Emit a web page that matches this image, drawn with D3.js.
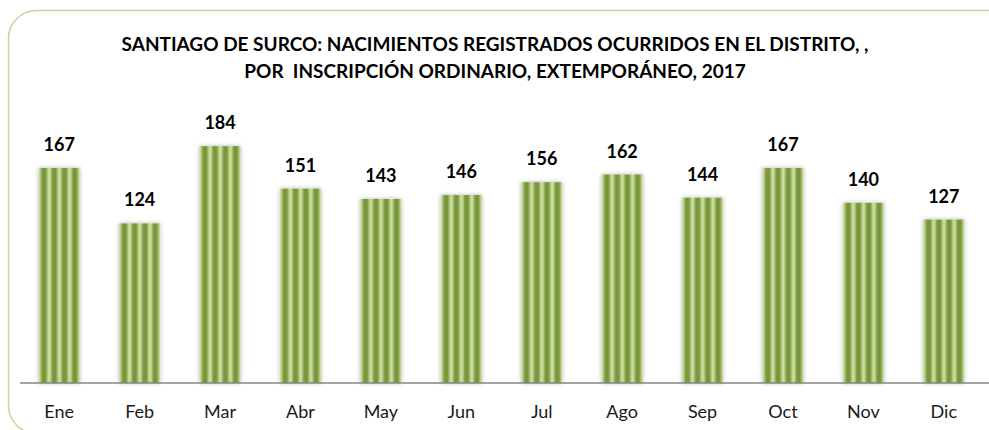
<!DOCTYPE html>
<html>
<head>
<meta charset="utf-8">
<script src="https://d3js.org/d3.v7.min.js"></script>
<style>
  body { margin: 0; background: #fff; }
  svg text { font-family: Lato, "Open Sans", sans-serif; }
</style>
</head>
<body>
<div id="my_dataviz"></div>
<script>
// data
const months = ["Ene","Feb","Mar","Abr","May","Jun","Jul","Ago","Sep","Oct","Nov","Dic"];
const births = [167, 124, 184, 151, 143, 146, 156, 162, 144, 167, 140, 127];
const titleLines = [
  "SANTIAGO DE SURCO: NACIMIENTOS REGISTRADOS OCURRIDOS EN EL DISTRITO, ,",
  "POR  INSCRIPCIÓN ORDINARIO, EXTEMPORÁNEO, 2017"
];

const W = 989, H = 430;

const svg = d3.select("#my_dataviz")
  .append("svg")
    .attr("width", W)
    .attr("height", H);

const defs = svg.append("defs");

const x = d3.scaleBand()
  .domain(months)
  .range([19, 984])
  .paddingInner(0.49)
  .paddingOuter(0.245);

const y = d3.scaleLinear()
  .domain([0, 200])
  .range([383, 125.6]);

const tile = x.bandwidth() / 4;

// soft light->dark->light band used inside each stripe tile
const grad = defs.append("linearGradient")
  .attr("id", "stripeGrad")
  .attr("x1", 0).attr("x2", 1)
  .attr("y1", 0).attr("y2", 0);
[[0, "#d3e3ae"], [0.18, "#b3cb7c"], [0.35, "#7a9740"], [0.65, "#77933c"], [0.82, "#a5bf68"], [1, "#d3e3ae"]]
  .forEach(s => grad.append("stop").attr("offset", s[0]).attr("stop-color", s[1]));

// one stripe pattern per bar so the stripes line up with its left edge
defs.selectAll("pattern")
  .data(months)
  .join("pattern")
    .attr("id", (d, i) => "stripes" + i)
    .attr("patternUnits", "userSpaceOnUse")
    .attr("x", d => x(d))
    .attr("y", 0)
    .attr("width", tile)
    .attr("height", H)
  .append("rect")
    .attr("width", tile)
    .attr("height", H)
    .attr("fill", "url(#stripeGrad)");

const shadow = defs.append("filter")
  .attr("id", "shadow")
  .attr("x", "-30%").attr("y", "-10%")
  .attr("width", "160%").attr("height", "120%");
shadow.append("feDropShadow")
  .attr("dx", 0).attr("dy", 0)
  .attr("stdDeviation", 2)
  .attr("flood-color", "#000")
  .attr("flood-opacity", 0.3);

// rounded chart frame
svg.append("rect")
  .attr("x", 8.5).attr("y", 10.5)
  .attr("width", 1010).attr("height", 423)
  .attr("rx", 28).attr("ry", 28)
  .attr("fill", "none")
  .attr("stroke", "#c3d69b")
  .attr("stroke-width", 1.5);

// title
svg.selectAll("text.title")
  .data(titleLines)
  .join("text")
    .attr("class", "title")
    .attr("x", 495)
    .attr("y", (d, i) => 51 + i * 27)
    .attr("text-anchor", "middle")
    .attr("font-weight", "bold")
    .attr("font-size", 19)
    .style("white-space", "pre")
    .attr("fill", "#000")
    .text(d => d);

// bars
svg.append("g")
  .selectAll("rect")
  .data(births)
  .join("rect")
    .attr("x", (d, i) => x(months[i]))
    .attr("y", d => y(d))
    .attr("width", x.bandwidth())
    .attr("height", d => y(0) - y(d))
    .attr("fill", (d, i) => `url(#stripes${i})`)
    .attr("filter", "url(#shadow)");

// value labels
svg.append("g")
  .selectAll("text")
  .data(births)
  .join("text")
    .attr("x", (d, i) => x(months[i]) + x.bandwidth() / 2)
    .attr("y", d => y(d) - 17)
    .attr("text-anchor", "middle")
    .attr("font-weight", "bold")
    .attr("font-size", 18)
    .attr("fill", "#000")
    .text(d => d);

// x axis
const xAxis = svg.append("g")
  .attr("transform", `translate(0,${y(0)})`)
  .call(d3.axisBottom(x).tickSize(0).tickPadding(22).tickSizeOuter(0));
xAxis.select(".domain").remove();
xAxis.append("line")
  .attr("x1", 20).attr("x2", 989)
  .attr("stroke", "#868686")
  .attr("stroke-width", 1.5);
xAxis.selectAll(".tick text")
  .attr("font-family", "Lato, sans-serif")
  .attr("font-size", 18)
  .attr("fill", "#1a1a1a")
  .attr("dy", "0.72em");
</script>
</body>
</html>
